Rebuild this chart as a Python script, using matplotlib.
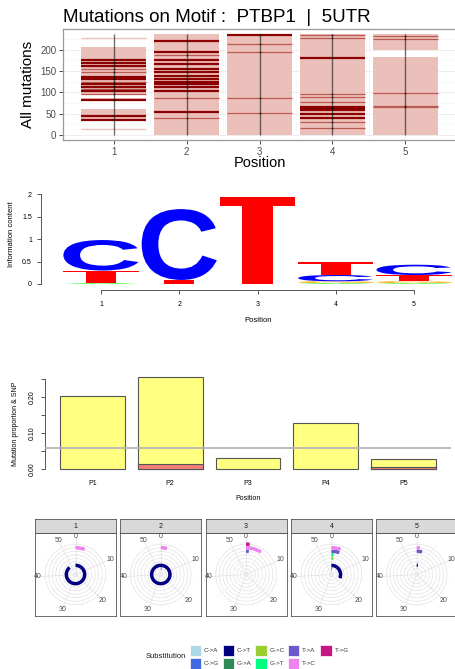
import numpy as np
import matplotlib
matplotlib.use("Agg")
import matplotlib.pyplot as plt
from matplotlib.textpath import TextPath
from matplotlib.font_manager import FontProperties
from matplotlib.patches import PathPatch, Rectangle, Polygon
from matplotlib.transforms import Affine2D

W, H = 456, 669
plt.rcParams['font.family'] = ['Liberation Sans', 'DejaVu Sans']

# ---- panel 1: mutations along the motif ----
positions = [1, 2, 3, 4, 5]
n_mut = 237
mut_bands = [
    [(93, 205), (33, 60), (79, 87)],
    [(0, 237)],
    [(0, 237)],
    [(0, 237)],
    [(198, 237), (0, 183)],
]
mut_strong = [
    [175, 169, 161, 135, 131, 120, 112, 102, 82, 44, 36],
    [219, 195, 176, 166, 155, 147, 137, 130, 124, 120, 112, 102, 53],
    [235],
    [181, 66, 62, 58, 48, 40],
    [],
]
mut_medium = [
    [155, 148, 125, 108, 95],
    [186, 86, 39],
    [212, 193, 87, 52],
    [235, 227, 95, 89, 78, 31, 17],
    [232, 225, 98, 68, 65],
]
mut_faint = [[15, 228], [], [], [], []]

# ---- panel 2: sequence logo (bits, stacked bottom to top) ----
logo_stacks = [
    [('A', 0.02), ('T', 0.28), ('C', 0.68)],
    [('T', 0.09), ('C', 1.58)],
    [('T', 1.93)],
    [('A', 0.02), ('G', 0.04), ('C', 0.14), ('T', 0.28)],
    [('A', 0.02), ('G', 0.04), ('T', 0.14), ('C', 0.23)],
]
logo_colors = {'A': '#00ff00', 'C': '#0000ff', 'G': '#ffa500', 'T': '#ff0000'}

# ---- panel 3: mutation proportion & SNP ----
bar_names = ['P1', 'P2', 'P3', 'P4', 'P5']
mut_prop = [0.204, 0.255, 0.030, 0.129, 0.027]
snp_prop = [0.0, 0.013, 0.0, 0.0, 0.005]
prop_threshold = 0.059

# ---- panel 4: substitutions per position ----
subst_types = ['C->A', 'C->G', 'C->T', 'G->A', 'G->C', 'G->T', 'T->A', 'T->C', 'T->G']
subst_colors = ['#add8e6', '#4169e1', '#000080', '#2e8b57', '#9acd32',
                '#00ff7f', '#6a5acd', '#ee82ee', '#c71585']
subst_counts = [
    [0, 0, 48, 0, 0, 0, 0, 3, 0],
    [0, 1, 54, 0, 0, 0, 0, 2, 0],
    [0, 0, 0, 0, 0, 0, 1, 5, 1],
    [0, 1, 17, 0, 1, 1, 3, 3, 0],
    [0, 0, 1, 0, 0, 0, 2, 1, 0],
]
theta_breaks = [0, 10, 20, 30, 40, 50]

fig = plt.figure(figsize=(W / 100, H / 100), dpi=100)


def box(x0, y0, x1, y1):
    return [x0 / W, 1 - y1 / H, (x1 - x0) / W, (y1 - y0) / H]


# ================= panel 1 =================
ax1 = fig.add_axes(box(63, 29, 456, 140))
for i, p in enumerate(positions):
    for lo, hi in mut_bands[i]:
        ax1.bar(p, hi - lo, bottom=lo, width=0.9, color='#ecc0ba', lw=0, zorder=2)
    if mut_faint[i]:
        ax1.hlines(mut_faint[i], p - 0.45, p + 0.45, color='#efc4be', lw=1.0, zorder=2)
    if mut_medium[i]:
        ax1.hlines(mut_medium[i], p - 0.45, p + 0.45, color='#bb5a52', lw=0.9, zorder=3)
    if mut_strong[i]:
        ax1.hlines(mut_strong[i], p - 0.45, p + 0.45, color='#8b0000', lw=1.6, zorder=4)
    ax1.vlines(p, 0, n_mut, color='black', lw=1.0, alpha=0.55, zorder=5)
    pts = mut_strong[i] + mut_medium[i]
    ax1.scatter([p] * len(pts), pts, s=1.5, color='black', alpha=0.7, lw=0, zorder=6)

ax1.set_xlim(0.305, 5.695)
ax1.set_ylim(-11.8, 248)
ax1.set_xticks(positions)
ax1.set_xticks([1.5, 2.5, 3.5, 4.5], minor=True)
ax1.set_yticks([0, 50, 100, 150, 200])
ax1.set_yticks([25, 75, 125, 175, 225], minor=True)
ax1.grid(which='major', color='#ebebeb', lw=0.6)
ax1.grid(which='minor', color='#f4f4f4', lw=0.4)
ax1.set_axisbelow(True)
ax1.tick_params(which='major', length=2.8, width=0.6, color='#333333',
                labelcolor='#4d4d4d', labelsize=7, pad=2)
ax1.tick_params(which='minor', length=0)
for s in ax1.spines.values():
    s.set_color('#9a9a9a')
    s.set_linewidth(0.9)

# ================= panel 2 =================
ax2 = fig.add_axes(box(41, 190, 456, 290))
ax2.set_xlim(0.234, 5.536)
ax2.set_ylim(-0.134, 2.096)
fp = FontProperties(family='Liberation Sans', weight='bold')


def draw_letter(ax, letter, xc, y0, w, h, color):
    if h <= 0:
        return
    if letter == 'T':
        shape = np.array([(0, 1), (1, 1), (1, 0.9), (0.7, 0.9), (0.7, 0),
                          (0.3, 0), (0.3, 0.9), (0, 0.9)])
        pts = np.column_stack([xc - w / 2 + shape[:, 0] * w, y0 + shape[:, 1] * h])
        ax.add_patch(Polygon(pts, closed=True, facecolor=color, edgecolor='none'))
        return
    tp = TextPath((0, 0), letter, size=1, prop=fp)
    bb = tp.get_extents()
    tr = (Affine2D().translate(-bb.x0, -bb.y0)
          .scale(w / bb.width, h / bb.height)
          .translate(xc - w / 2, y0))
    ax.add_patch(PathPatch(tp, transform=tr + ax.transData,
                           facecolor=color, edgecolor='none'))


for i, p in enumerate(positions):
    bottom = 0.0
    for letter, h in logo_stacks[i]:
        draw_letter(ax2, letter, p, bottom, 0.96, h, logo_colors[letter])
        bottom += h

for side in ['top', 'right']:
    ax2.spines[side].set_visible(False)
ax2.spines['left'].set_bounds(0, 2)
ax2.spines['bottom'].set_bounds(1, 5)
for side in ['left', 'bottom']:
    ax2.spines[side].set_color('#555555')
    ax2.spines[side].set_linewidth(0.7)
ax2.set_xticks(positions)
ax2.set_xticklabels([str(p) for p in positions])
ax2.set_yticks([0, 0.5, 1, 1.5, 2])
ax2.set_yticklabels(['0', '0.5', '1', '1.5', '2'])
ax2.tick_params(axis='x', length=3, width=0.7, color='#555555', labelsize=5, pad=5)
ax2.tick_params(axis='y', length=3, width=0.7, color='#555555', labelsize=5, pad=3.5)

# ================= panel 3 =================
ax3 = fig.add_axes(box(45, 373.6, 451, 472.7))
centers = [0.7 + 1.2 * i for i in range(len(bar_names))]
ax3.bar(centers, mut_prop, width=1.0, color='#ffff80', edgecolor='#555555', lw=0.8, zorder=2)
snp_x = [c for c, v in zip(centers, snp_prop) if v > 0]
snp_v = [v for v in snp_prop if v > 0]
ax3.bar(snp_x, snp_v, width=1.0, color='#f27f78', edgecolor='#555555', lw=0.8, zorder=3)
ax3.axhline(prop_threshold, color='#b5b5b5', lw=1.3, zorder=4)
ax3.set_xlim(-0.032, 6.232)
ax3.set_ylim(-0.0102, 0.265)
for side in ['top', 'right', 'bottom']:
    ax3.spines[side].set_visible(False)
ax3.spines['left'].set_bounds(0, 0.25)
ax3.spines['left'].set_color('#555555')
ax3.spines['left'].set_linewidth(0.7)
ax3.set_yticks([0, 0.05, 0.10, 0.15, 0.20, 0.25])
ax3.set_yticklabels(['0.00', '', '0.10', '', '0.20', ''], rotation=90, va='center')
ax3.tick_params(axis='y', length=3, width=0.7, color='#555555', labelsize=5, pad=4)
ax3.set_xticks(centers)
ax3.set_xticklabels(bar_names)
ax3.tick_params(axis='x', length=0, labelsize=5, pad=5)

# ================= panel 4 =================
r_per_px = 9.2 / 32.4


def r_px(px):
    return 0.4 + px * r_per_px


theta_max = 54.0
R_axes = 38
rmax = r_px(R_axes)
r_spoke = r_px(36.5)
r_label = r_px(37.5)
circ = np.linspace(0, 2 * np.pi, 240)

for k in range(len(subst_counts)):
    x0 = 35 + 85.3 * k
    x1 = x0 + 81
    fax = fig.add_axes(box(x0, 533, x1, 616))
    fax.set_xticks([])
    fax.set_yticks([])
    for s in fax.spines.values():
        s.set_color('#555555')
        s.set_linewidth(0.6)
    sax = fig.add_axes(box(x0, 519, x1, 533))
    sax.set_facecolor('#d9d9d9')
    sax.set_xticks([])
    sax.set_yticks([])
    for s in sax.spines.values():
        s.set_color('#555555')
        s.set_linewidth(0.6)
    sax.text(0.5, 0.5, str(k + 1), ha='center', va='center', fontsize=5,
             color='#1a1a1a', transform=sax.transAxes)

    cx, cy = x0 + 40.5, 574.5
    pax = fig.add_axes(box(cx - R_axes, cy - R_axes, cx + R_axes, cy + R_axes),
                       projection='polar')
    pax.patch.set_alpha(0)
    pax.set_theta_zero_location('N')
    pax.set_theta_direction(-1)
    pax.set_ylim(0.4, rmax)
    pax.set_xticks([])
    pax.set_yticks([])
    pax.grid(False)
    pax.spines['polar'].set_visible(False)
    for lev in range(1, len(subst_types) + 1):
        pax.plot(circ, [lev] * len(circ), color='#e2e2e2', lw=0.5, zorder=1)
    for t in theta_breaks:
        a = t / theta_max * 2 * np.pi
        pax.plot([a, a], [0.4, r_spoke], color='#e2e2e2', lw=0.5, zorder=1)
        pax.text(a, r_label, str(t), ha='center', va='center', fontsize=5,
                 color='#4d4d4d')
    for t in [5, 15, 25, 35, 45]:
        a = t / theta_max * 2 * np.pi
        pax.plot([a, a], [0.4, r_spoke], color='#efefef', lw=0.3, zorder=1)
    for j, cnt in enumerate(subst_counts[k]):
        if cnt <= 0:
            continue
        lev = j + 1
        pax.bar(0, 1.0, width=cnt / theta_max * 2 * np.pi, bottom=lev - 0.5,
                align='edge', color=subst_colors[j], lw=0, zorder=3)

# ================= overlay texts & legend =================
lax = fig.add_axes([0, 0, 1, 1])
lax.set_xlim(0, W)
lax.set_ylim(H, 0)
lax.axis('off')

lax.text(63, 21.7, 'Mutations on Motif :  PTBP1  |  5UTR', ha='left', va='baseline',
         fontsize=13.5, color='black')
lax.text(28.5, 84, 'All mutations', rotation=90, ha='center', va='center', fontsize=11)
lax.text(260, 163, 'Position', ha='center', va='center', fontsize=10.5)

lax.text(12, 234, 'Information content', rotation=90, ha='center', va='center', fontsize=5.5)
lax.text(258, 321, 'Position', ha='center', va='center', fontsize=5.5)

lax.text(15.5, 423.5, 'Mutation proportion & SNP', rotation=90, ha='center',
         va='center', fontsize=5)
lax.text(248, 498.5, 'Position', ha='center', va='center', fontsize=5)

lax.text(186, 657, 'Substitution', ha='right', va='center', fontsize=5.5, color='#1a1a1a')
for i, (name, col) in enumerate(zip(subst_types, subst_colors)):
    c, r = i // 2, i % 2
    kx = 190 + 32.6 * c
    ky = 644.5 + 13.2 * r
    lax.add_patch(Rectangle((kx, ky), 11.5, 11.5, facecolor=col, edgecolor='white', lw=0.5))
    lax.text(kx + 14, ky + 6, name, ha='left', va='center', fontsize=4.5, color='#333333')

fig.savefig('out.png', dpi=100)
